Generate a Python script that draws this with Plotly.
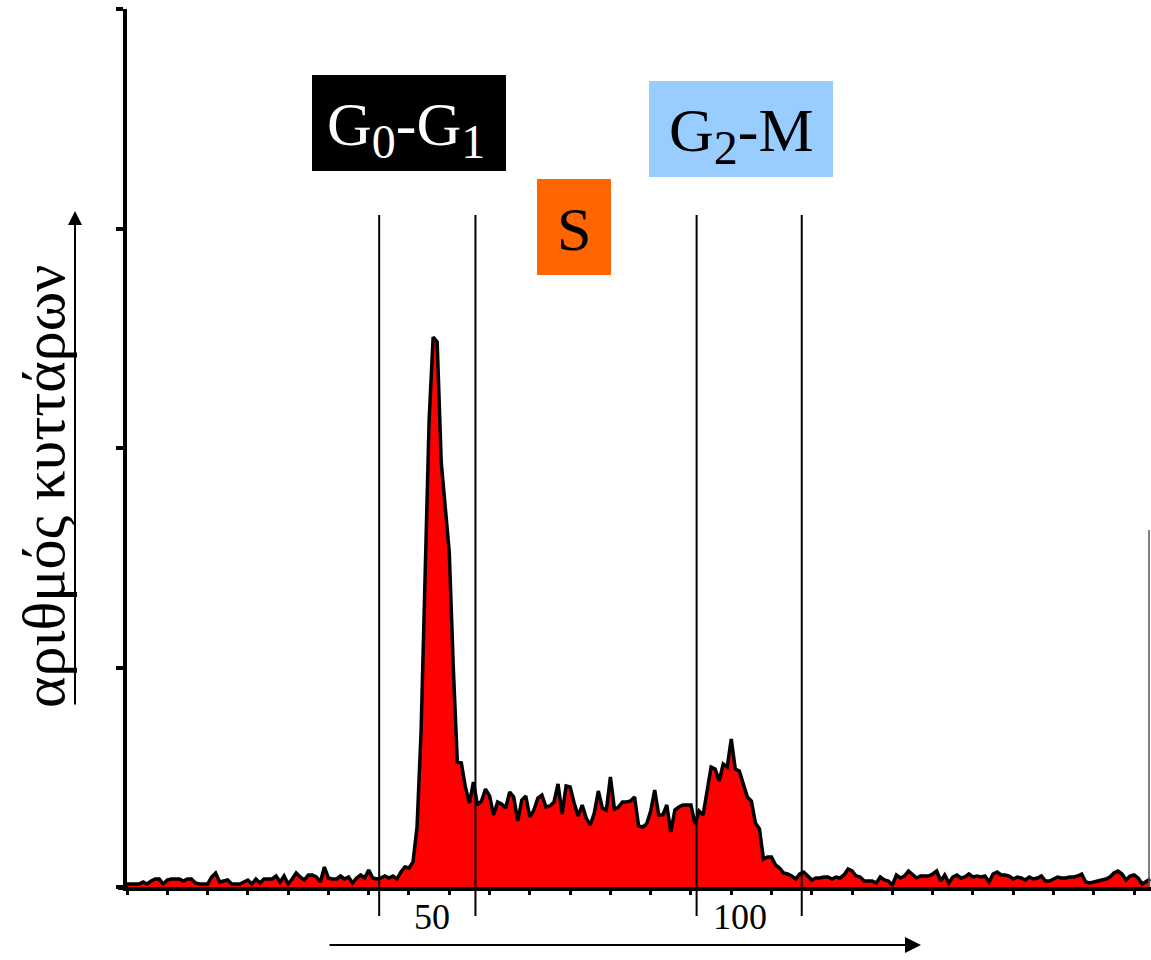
import plotly.graph_objects as go

# ---------------- data ----------------
channels = list(range(255))
counts = [
    3, 3, 3, 3, 5, 3, 6, 8, 8, 3,
    7, 8, 8, 8, 6, 8, 8, 4, 3, 3,
    3, 10, 14, 5, 6, 7, 3, 3, 3, 5,
    7, 3, 8, 4, 8, 8, 8, 11, 5, 11,
    3, 8, 14, 10, 7, 12, 12, 10, 5, 20,
    9, 8, 8, 11, 8, 10, 4, 9, 12, 9,
    17, 9, 8, 9, 11, 9, 11, 8, 15, 20,
    19, 25, 60, 155, 300, 467, 550, 545, 425, 380,
    335, 220, 125, 124, 100, 84, 105, 82, 86, 98,
    91, 72, 85, 83, 79, 95, 90, 66, 87, 91,
    70, 77, 89, 92, 80, 81, 85, 103, 73, 101,
    100, 84, 71, 82, 69, 62, 74, 96, 79, 77,
    110, 78, 80, 85, 85, 86, 90, 61, 60, 63,
    76, 97, 72, 72, 82, 55, 77, 80, 82, 82,
    82, 63, 76, 72, 95, 120, 118, 106, 123, 120,
    148, 118, 116, 102, 90, 86, 64, 58, 28, 30,
    30, 22, 19, 14, 13, 11, 8, 13, 15, 11,
    7, 9, 9, 10, 10, 8, 10, 9, 12, 18,
    16, 11, 10, 6, 6, 6, 4, 10, 7, 6,
    2, 12, 9, 11, 16, 12, 9, 11, 11, 11,
    13, 16, 6, 12, 4, 10, 12, 9, 10, 13,
    10, 11, 10, 11, 5, 13, 15, 12, 12, 11,
    8, 10, 9, 7, 10, 8, 9, 11, 6, 6,
    8, 10, 9, 9, 10, 10, 11, 13, 5, 4,
    5, 6, 7, 8, 10, 14, 16, 13, 7, 11,
    12, 9, 3, 6, 8,
]
gates = [62.6, 86.5, 141.4, 167.5]
tick_label_pos = [75.7, 152.2]
tick_labels = ["50", "100"]
phase_labels = ["G<sub><span style='font-size:48px'>0</span></sub>-G<sub><span style='font-size:48px'>1</span></sub>",
                "S",
                "G<sub><span style='font-size:48px'>2</span></sub>-M"]
y_title = "αριθμός κυττάρων"

# ---------------- layout geometry ----------------
W, H = 1151, 960
L, R, T, B = 127, 0, 9, 73
PW, PH = W - L - R, H - T - B
X_MAX = 254.2
Y_MAX = PH


def pxx(p):
    return (p - L) / PW


def pxy(p):
    return (H - B - p) / PH


FONT = "Liberation Serif, Times New Roman, Times, serif"

fig = go.Figure()
fig.add_trace(go.Scatter(
    x=channels, y=counts, mode="lines",
    line=dict(color="black", width=3.5),
    fill="tozeroy", fillcolor="#FF0000",
    hoverinfo="skip", showlegend=False,
))

shapes = []
# gate lines
for g in gates:
    shapes.append(dict(type="line", xref="x", yref="paper", x0=g, x1=g,
                       y0=pxy(916), y1=pxy(215),
                       line=dict(color="black", width=2)))
# label boxes
boxes = [((312, 75, 506, 171), "black"),
         ((537, 179, 611, 275), "#FF6600"),
         ((649, 81, 833, 177), "#99CCFF")]
for (x0, y0, x1, y1), col in boxes:
    shapes.append(dict(type="rect", xref="paper", yref="paper",
                       x0=pxx(x0), x1=pxx(x1), y0=pxy(y1), y1=pxy(y0),
                       fillcolor=col, line=dict(width=0), layer="above"))
# axis stub to the left of the y axis
shapes.append(dict(type="line", xref="paper", yref="paper",
                   x0=pxx(118), x1=pxx(128), y0=pxy(888), y1=pxy(888),
                   line=dict(color="black", width=4)))
# thin frame edge at right
shapes.append(dict(type="line", xref="paper", yref="paper",
                   x0=pxx(1149), x1=pxx(1149), y0=pxy(887), y1=pxy(530),
                   line=dict(color="#555555", width=1.5)))

annotations = []
label_pos = [((406, 129), "white"), ((574, 229), "black"), ((741, 135), "black")]
for txt, ((cx, cy), col) in zip(phase_labels, label_pos):
    annotations.append(dict(text=txt, xref="paper", yref="paper",
                            x=pxx(cx), y=pxy(cy), xanchor="center", yanchor="middle",
                            showarrow=False, font=dict(family=FONT, size=62, color=col)))
for xv, t in zip(tick_label_pos, tick_labels):
    annotations.append(dict(text=t, xref="x", yref="paper", x=xv, y=pxy(917),
                            xanchor="center", yanchor="middle", showarrow=False,
                            font=dict(family=FONT, size=36, color="black")))
# y title
annotations.append(dict(text=y_title, xref="paper", yref="paper",
                        x=pxx(44), y=pxy(487), xanchor="center", yanchor="middle",
                        textangle=-90, showarrow=False,
                        font=dict(family=FONT, size=60, color="black")))
# arrows
annotations.append(dict(text="", xref="paper", yref="paper", x=pxx(921), y=pxy(945),
                        ax=-593, ay=0, showarrow=True, arrowhead=2, arrowsize=1.6,
                        arrowwidth=2, arrowcolor="black"))
annotations.append(dict(text="", xref="paper", yref="paper", x=pxx(75), y=pxy(211),
                        ax=0, ay=495, showarrow=True, arrowhead=2, arrowsize=1.4,
                        arrowwidth=2, arrowcolor="black"))

fig.update_layout(
    width=W, height=H,
    margin=dict(l=L, r=R, t=T, b=B, pad=0),
    paper_bgcolor="white", plot_bgcolor="white",
    font=dict(family=FONT),
    shapes=shapes, annotations=annotations,
    xaxis=dict(range=[0, X_MAX], showgrid=False, zeroline=False,
               showline=True, linecolor="black", linewidth=4,
               ticks="outside", ticklen=4, tickwidth=3, tickcolor="black",
               tick0=0, dtick=10, showticklabels=False, fixedrange=True),
    yaxis=dict(range=[0, Y_MAX], showgrid=False, zeroline=False,
               showline=True, linecolor="black", linewidth=4,
               ticks="outside", ticklen=7, tickwidth=4, tickcolor="black",
               tick0=0, dtick=Y_MAX / 4, showticklabels=False, fixedrange=True),
    showlegend=False,
)

fig.write_html("out.html")
